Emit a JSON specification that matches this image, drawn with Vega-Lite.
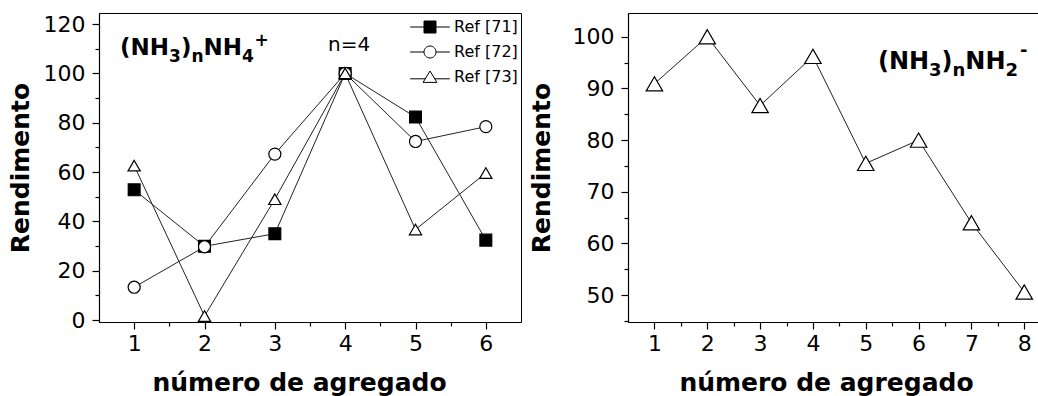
{
  "$schema": "https://vega.github.io/schema/vega-lite/v6.json",
  "background": "white",
  "padding": {"left": 7, "top": 12, "right": 0, "bottom": 0},
  "spacing": 6,
  "datasets": {
    "cat": [
      {"n": 1, "y": 52.8, "serie": "Ref [71]"},
      {"n": 2, "y": 29.9, "serie": "Ref [71]"},
      {"n": 3, "y": 35.0, "serie": "Ref [71]"},
      {"n": 4, "y": 100.0, "serie": "Ref [71]"},
      {"n": 5, "y": 82.3, "serie": "Ref [71]"},
      {"n": 6, "y": 32.4, "serie": "Ref [71]"},
      {"n": 1, "y": 13.3, "serie": "Ref [72]"},
      {"n": 2, "y": 29.7, "serie": "Ref [72]"},
      {"n": 3, "y": 67.3, "serie": "Ref [72]"},
      {"n": 4, "y": 100.0, "serie": "Ref [72]"},
      {"n": 5, "y": 72.4, "serie": "Ref [72]"},
      {"n": 6, "y": 78.4, "serie": "Ref [72]"},
      {"n": 1, "y": 62.6, "serie": "Ref [73]"},
      {"n": 2, "y": 1.6, "serie": "Ref [73]"},
      {"n": 3, "y": 49.0, "serie": "Ref [73]"},
      {"n": 4, "y": 100.0, "serie": "Ref [73]"},
      {"n": 5, "y": 36.7, "serie": "Ref [73]"},
      {"n": 6, "y": 59.6, "serie": "Ref [73]"}
    ],
    "anion": [
      {"n": 1, "y": 90.9},
      {"n": 2, "y": 100.0},
      {"n": 3, "y": 86.7},
      {"n": 4, "y": 96.2},
      {"n": 5, "y": 75.5},
      {"n": 6, "y": 80.0},
      {"n": 7, "y": 64.0},
      {"n": 8, "y": 50.6}
    ],
    "one": [{}]
  },
  "hconcat": [
    {
      "width": 422,
      "height": 309,
      "layer": [
        {
          "data": {"name": "cat"},
          "mark": {"type": "line", "color": "#222", "strokeWidth": 1},
          "encoding": {
            "x": {
              "field": "n", "type": "quantitative",
              "scale": {"domain": [0.5, 6.5], "nice": false, "zero": false},
              "axis": {
                "orient": "bottom",
                "title": "número de agregado",
                "values": [1, 2, 3, 4, 5, 6],
                "format": "d",
                "tickSize": 7,
                "labelPadding": 4,
                "titlePadding": 16,
                "titleX": 200
              }
            },
            "y": {
              "field": "y", "type": "quantitative",
              "scale": {"domain": [-0.8, 124.5], "nice": false, "zero": false},
              "axis": {
                "orient": "left",
                "title": "Rendimento",
                "values": [0, 20, 40, 60, 80, 100, 120],
                "format": "d",
                "tickSize": 7,
                "labelPadding": 7,
                "titlePadding": 10
              }
            },
            "detail": {"field": "serie"}
          }
        },
        {
          "data": {"name": "cat"},
          "mark": {"type": "point", "filled": true, "stroke": "black", "strokeWidth": 1.2, "opacity": 1},
          "encoding": {
            "x": {"field": "n", "type": "quantitative", "scale": {"domain": [0.5, 6.5], "nice": false, "zero": false},
              "axis": {"orient": "bottom", "values": [1.5, 2.5, 3.5, 4.5, 5.5], "tickSize": 4, "labels": false, "domain": false, "title": null}},
            "y": {"field": "y", "type": "quantitative", "scale": {"domain": [-0.8, 124.5], "nice": false, "zero": false},
              "axis": {"orient": "left", "values": [10, 30, 50, 70, 90, 110], "tickSize": 4, "labels": false, "domain": false, "title": null}},
            "shape": {"field": "serie", "scale": {"domain": ["Ref [71]", "Ref [72]", "Ref [73]"], "range": ["square", "circle", "triangle-up"]}, "legend": null},
            "fill": {"field": "serie", "scale": {"domain": ["Ref [71]", "Ref [72]", "Ref [73]"], "range": ["black", "white", "white"]}, "legend": null},
            "size": {"field": "serie", "scale": {"domain": ["Ref [71]", "Ref [72]", "Ref [73]"], "range": [140, 150, 230]}, "legend": null}
          }
        },
        {
          "data": {"name": "cat"},
          "transform": [{"filter": "false"}],
          "mark": {"type": "point", "filled": true, "strokeWidth": 1, "opacity": 1, "size": 144},
          "encoding": {
            "x": {"field": "n", "type": "quantitative", "scale": {"domain": [0.5, 6.5], "nice": false, "zero": false}, "axis": null},
            "y": {"field": "y", "type": "quantitative", "scale": {"domain": [-0.8, 124.5], "nice": false, "zero": false}, "axis": null},
            "shape": {
              "field": "serie",
              "scale": {"domain": ["Ref [71]", "Ref [72]", "Ref [73]"], "range": [
                "M-3.3,0H-1M1,0H3.3M-1,-1H1V1H-1Z",
                "M-3.3,0H-1M1,0H3.3M1,0A1,1,0,1,1,-1,0A1,1,0,1,1,1,0Z",
                "M-3.3,0.3H-0.75M0.75,0.3H3.3M0,-1L1.15,0.9H-1.15Z"
              ]},
              "legend": {"title": null, "orient": "none", "legendX": 323, "legendY": 6, "symbolStrokeColor": "black", "symbolStrokeWidth": 1}
            },
            "fill": {
              "field": "serie",
              "scale": {"domain": ["Ref [71]", "Ref [72]", "Ref [73]"], "range": ["black", "white", "white"]},
              "legend": {"title": null, "orient": "none", "legendX": 323, "legendY": 6, "symbolStrokeColor": "black", "symbolStrokeWidth": 1}
            },
            "stroke": {
              "field": "serie",
              "scale": {"domain": ["Ref [71]", "Ref [72]", "Ref [73]"], "range": ["black", "black", "black"]},
              "legend": {"title": null, "orient": "none", "legendX": 323, "legendY": 6, "symbolStrokeColor": "black", "symbolStrokeWidth": 1}
            }
          }
        },
        {
          "data": {"name": "one"},
          "mark": {"type": "text", "text": "n=4", "font": "DejaVu Sans", "fontSize": 20, "align": "center", "baseline": "alphabetic", "color": "black"},
          "encoding": {"x": {"datum": 4.055, "type": "quantitative", "axis": null}, "y": {"datum": 109.2, "type": "quantitative", "axis": null}}
        },
        {
          "data": {"name": "one"},
          "mark": {"type": "text", "text": "(NH", "font": "DejaVu Sans", "fontWeight": "bold", "fontSize": 23, "align": "left", "baseline": "alphabetic", "color": "black", "dx": 0},
          "encoding": {"x": {"datum": 0.8, "type": "quantitative", "axis": null}, "y": {"datum": 107.4, "type": "quantitative", "axis": null}}
        },
        {
          "data": {"name": "one"},
          "mark": {"type": "text", "text": "3", "font": "DejaVu Sans", "fontWeight": "bold", "fontSize": 17, "align": "left", "baseline": "alphabetic", "color": "black", "dx": 49, "dy": 7},
          "encoding": {"x": {"datum": 0.8, "type": "quantitative", "axis": null}, "y": {"datum": 107.4, "type": "quantitative", "axis": null}}
        },
        {
          "data": {"name": "one"},
          "mark": {"type": "text", "text": ")", "font": "DejaVu Sans", "fontWeight": "bold", "fontSize": 23, "align": "left", "baseline": "alphabetic", "color": "black", "dx": 60.8},
          "encoding": {"x": {"datum": 0.8, "type": "quantitative", "axis": null}, "y": {"datum": 107.4, "type": "quantitative", "axis": null}}
        },
        {
          "data": {"name": "one"},
          "mark": {"type": "text", "text": "n", "font": "DejaVu Sans", "fontWeight": "bold", "fontSize": 17, "align": "left", "baseline": "alphabetic", "color": "black", "dx": 71.3, "dy": 7},
          "encoding": {"x": {"datum": 0.8, "type": "quantitative", "axis": null}, "y": {"datum": 107.4, "type": "quantitative", "axis": null}}
        },
        {
          "data": {"name": "one"},
          "mark": {"type": "text", "text": "NH", "font": "DejaVu Sans", "fontWeight": "bold", "fontSize": 23, "align": "left", "baseline": "alphabetic", "color": "black", "dx": 83.4},
          "encoding": {"x": {"datum": 0.8, "type": "quantitative", "axis": null}, "y": {"datum": 107.4, "type": "quantitative", "axis": null}}
        },
        {
          "data": {"name": "one"},
          "mark": {"type": "text", "text": "4", "font": "DejaVu Sans", "fontWeight": "bold", "fontSize": 17, "align": "left", "baseline": "alphabetic", "color": "black", "dx": 121.9, "dy": 7},
          "encoding": {"x": {"datum": 0.8, "type": "quantitative", "axis": null}, "y": {"datum": 107.4, "type": "quantitative", "axis": null}}
        },
        {
          "data": {"name": "one"},
          "mark": {"type": "text", "text": "+", "font": "DejaVu Sans", "fontWeight": "bold", "fontSize": 17, "align": "left", "baseline": "alphabetic", "color": "black", "dx": 134.5, "dy": -9},
          "encoding": {"x": {"datum": 0.8, "type": "quantitative", "axis": null}, "y": {"datum": 107.4, "type": "quantitative", "axis": null}}
        }
      ],
      "resolve": {
        "scale": {"shape": "independent", "fill": "independent", "size": "independent", "stroke": "independent"},
        "axis": {"x": "independent", "y": "independent"}
      }
    },
    {
      "width": 410,
      "height": 309,
      "layer": [
        {
          "data": {"name": "anion"},
          "mark": {"type": "line", "color": "#222", "strokeWidth": 1},
          "encoding": {
            "x": {
              "field": "n", "type": "quantitative",
              "scale": {"domain": [0.5, 8.26], "nice": false, "zero": false},
              "axis": {
                "orient": "bottom",
                "title": "número de agregado",
                "values": [1, 2, 3, 4, 5, 6, 7, 8],
                "format": "d",
                "tickSize": 7,
                "labelPadding": 4,
                "titlePadding": 16,
                "titleX": 198
              }
            },
            "y": {
              "field": "y", "type": "quantitative",
              "scale": {"domain": [44.8, 104.6], "nice": false, "zero": false},
              "axis": {
                "orient": "left",
                "title": "Rendimento",
                "values": [50, 60, 70, 80, 90, 100],
                "format": "d",
                "tickSize": 7,
                "labelPadding": 7,
                "titlePadding": 18
              }
            }
          }
        },
        {
          "data": {"name": "anion"},
          "mark": {"type": "point", "shape": "triangle-up", "filled": true, "fill": "white", "stroke": "black", "strokeWidth": 1.2, "size": 270, "opacity": 1},
          "encoding": {
            "x": {"field": "n", "type": "quantitative", "scale": {"domain": [0.5, 8.26], "nice": false, "zero": false},
              "axis": {"orient": "bottom", "values": [1.5, 2.5, 3.5, 4.5, 5.5, 6.5, 7.5], "tickSize": 4, "labels": false, "domain": false, "title": null}},
            "y": {"field": "y", "type": "quantitative", "scale": {"domain": [44.8, 104.6], "nice": false, "zero": false},
              "axis": {"orient": "left", "values": [45, 55, 65, 75, 85, 95], "tickSize": 4, "labels": false, "domain": false, "title": null}}
          }
        },
        {
          "data": {"name": "one"},
          "mark": {"type": "text", "text": "(NH", "font": "DejaVu Sans", "fontWeight": "bold", "fontSize": 24, "align": "left", "baseline": "alphabetic", "color": "black", "dx": 0},
          "encoding": {"x": {"datum": 5.23, "type": "quantitative", "axis": null}, "y": {"datum": 93.7, "type": "quantitative", "axis": null}}
        },
        {
          "data": {"name": "one"},
          "mark": {"type": "text", "text": "3", "font": "DejaVu Sans", "fontWeight": "bold", "fontSize": 18, "align": "left", "baseline": "alphabetic", "color": "black", "dx": 51.1, "dy": 7},
          "encoding": {"x": {"datum": 5.23, "type": "quantitative", "axis": null}, "y": {"datum": 93.7, "type": "quantitative", "axis": null}}
        },
        {
          "data": {"name": "one"},
          "mark": {"type": "text", "text": ")", "font": "DejaVu Sans", "fontWeight": "bold", "fontSize": 24, "align": "left", "baseline": "alphabetic", "color": "black", "dx": 63.6},
          "encoding": {"x": {"datum": 5.23, "type": "quantitative", "axis": null}, "y": {"datum": 93.7, "type": "quantitative", "axis": null}}
        },
        {
          "data": {"name": "one"},
          "mark": {"type": "text", "text": "n", "font": "DejaVu Sans", "fontWeight": "bold", "fontSize": 18, "align": "left", "baseline": "alphabetic", "color": "black", "dx": 74.6, "dy": 7},
          "encoding": {"x": {"datum": 5.23, "type": "quantitative", "axis": null}, "y": {"datum": 93.7, "type": "quantitative", "axis": null}}
        },
        {
          "data": {"name": "one"},
          "mark": {"type": "text", "text": "NH", "font": "DejaVu Sans", "fontWeight": "bold", "fontSize": 24, "align": "left", "baseline": "alphabetic", "color": "black", "dx": 87.4},
          "encoding": {"x": {"datum": 5.23, "type": "quantitative", "axis": null}, "y": {"datum": 93.7, "type": "quantitative", "axis": null}}
        },
        {
          "data": {"name": "one"},
          "mark": {"type": "text", "text": "2", "font": "DejaVu Sans", "fontWeight": "bold", "fontSize": 18, "align": "left", "baseline": "alphabetic", "color": "black", "dx": 127.6, "dy": 7},
          "encoding": {"x": {"datum": 5.23, "type": "quantitative", "axis": null}, "y": {"datum": 93.7, "type": "quantitative", "axis": null}}
        },
        {
          "data": {"name": "one"},
          "mark": {"type": "text", "text": "-", "font": "DejaVu Sans", "fontWeight": "bold", "fontSize": 18, "align": "left", "baseline": "alphabetic", "color": "black", "dx": 142, "dy": -13},
          "encoding": {"x": {"datum": 5.23, "type": "quantitative", "axis": null}, "y": {"datum": 93.7, "type": "quantitative", "axis": null}}
        }
      ],
      "resolve": {"axis": {"x": "independent", "y": "independent"}}
    }
  ],
  "config": {
    "view": {"stroke": "black", "strokeWidth": 1},
    "axis": {
      "domainColor": "black", "domainWidth": 1.2,
      "tickColor": "black", "tickWidth": 1.2,
      "labelColor": "black", "titleColor": "black",
      "grid": false,
      "labelFont": "DejaVu Sans", "labelFontSize": 22,
      "titleFont": "DejaVu Sans", "titleFontSize": 25, "titleFontWeight": "bold",
      "labelFlush": false, "labelOverlap": false, "labelBound": false
    },
    "legend": {
      "labelFont": "DejaVu Sans", "labelFontSize": 16, "labelColor": "black",
      "symbolStrokeColor": "black", "symbolStrokeWidth": 1,
      "labelOffset": 16, "rowPadding": 9, "symbolSize": 144, "padding": 0
    }
  }
}
